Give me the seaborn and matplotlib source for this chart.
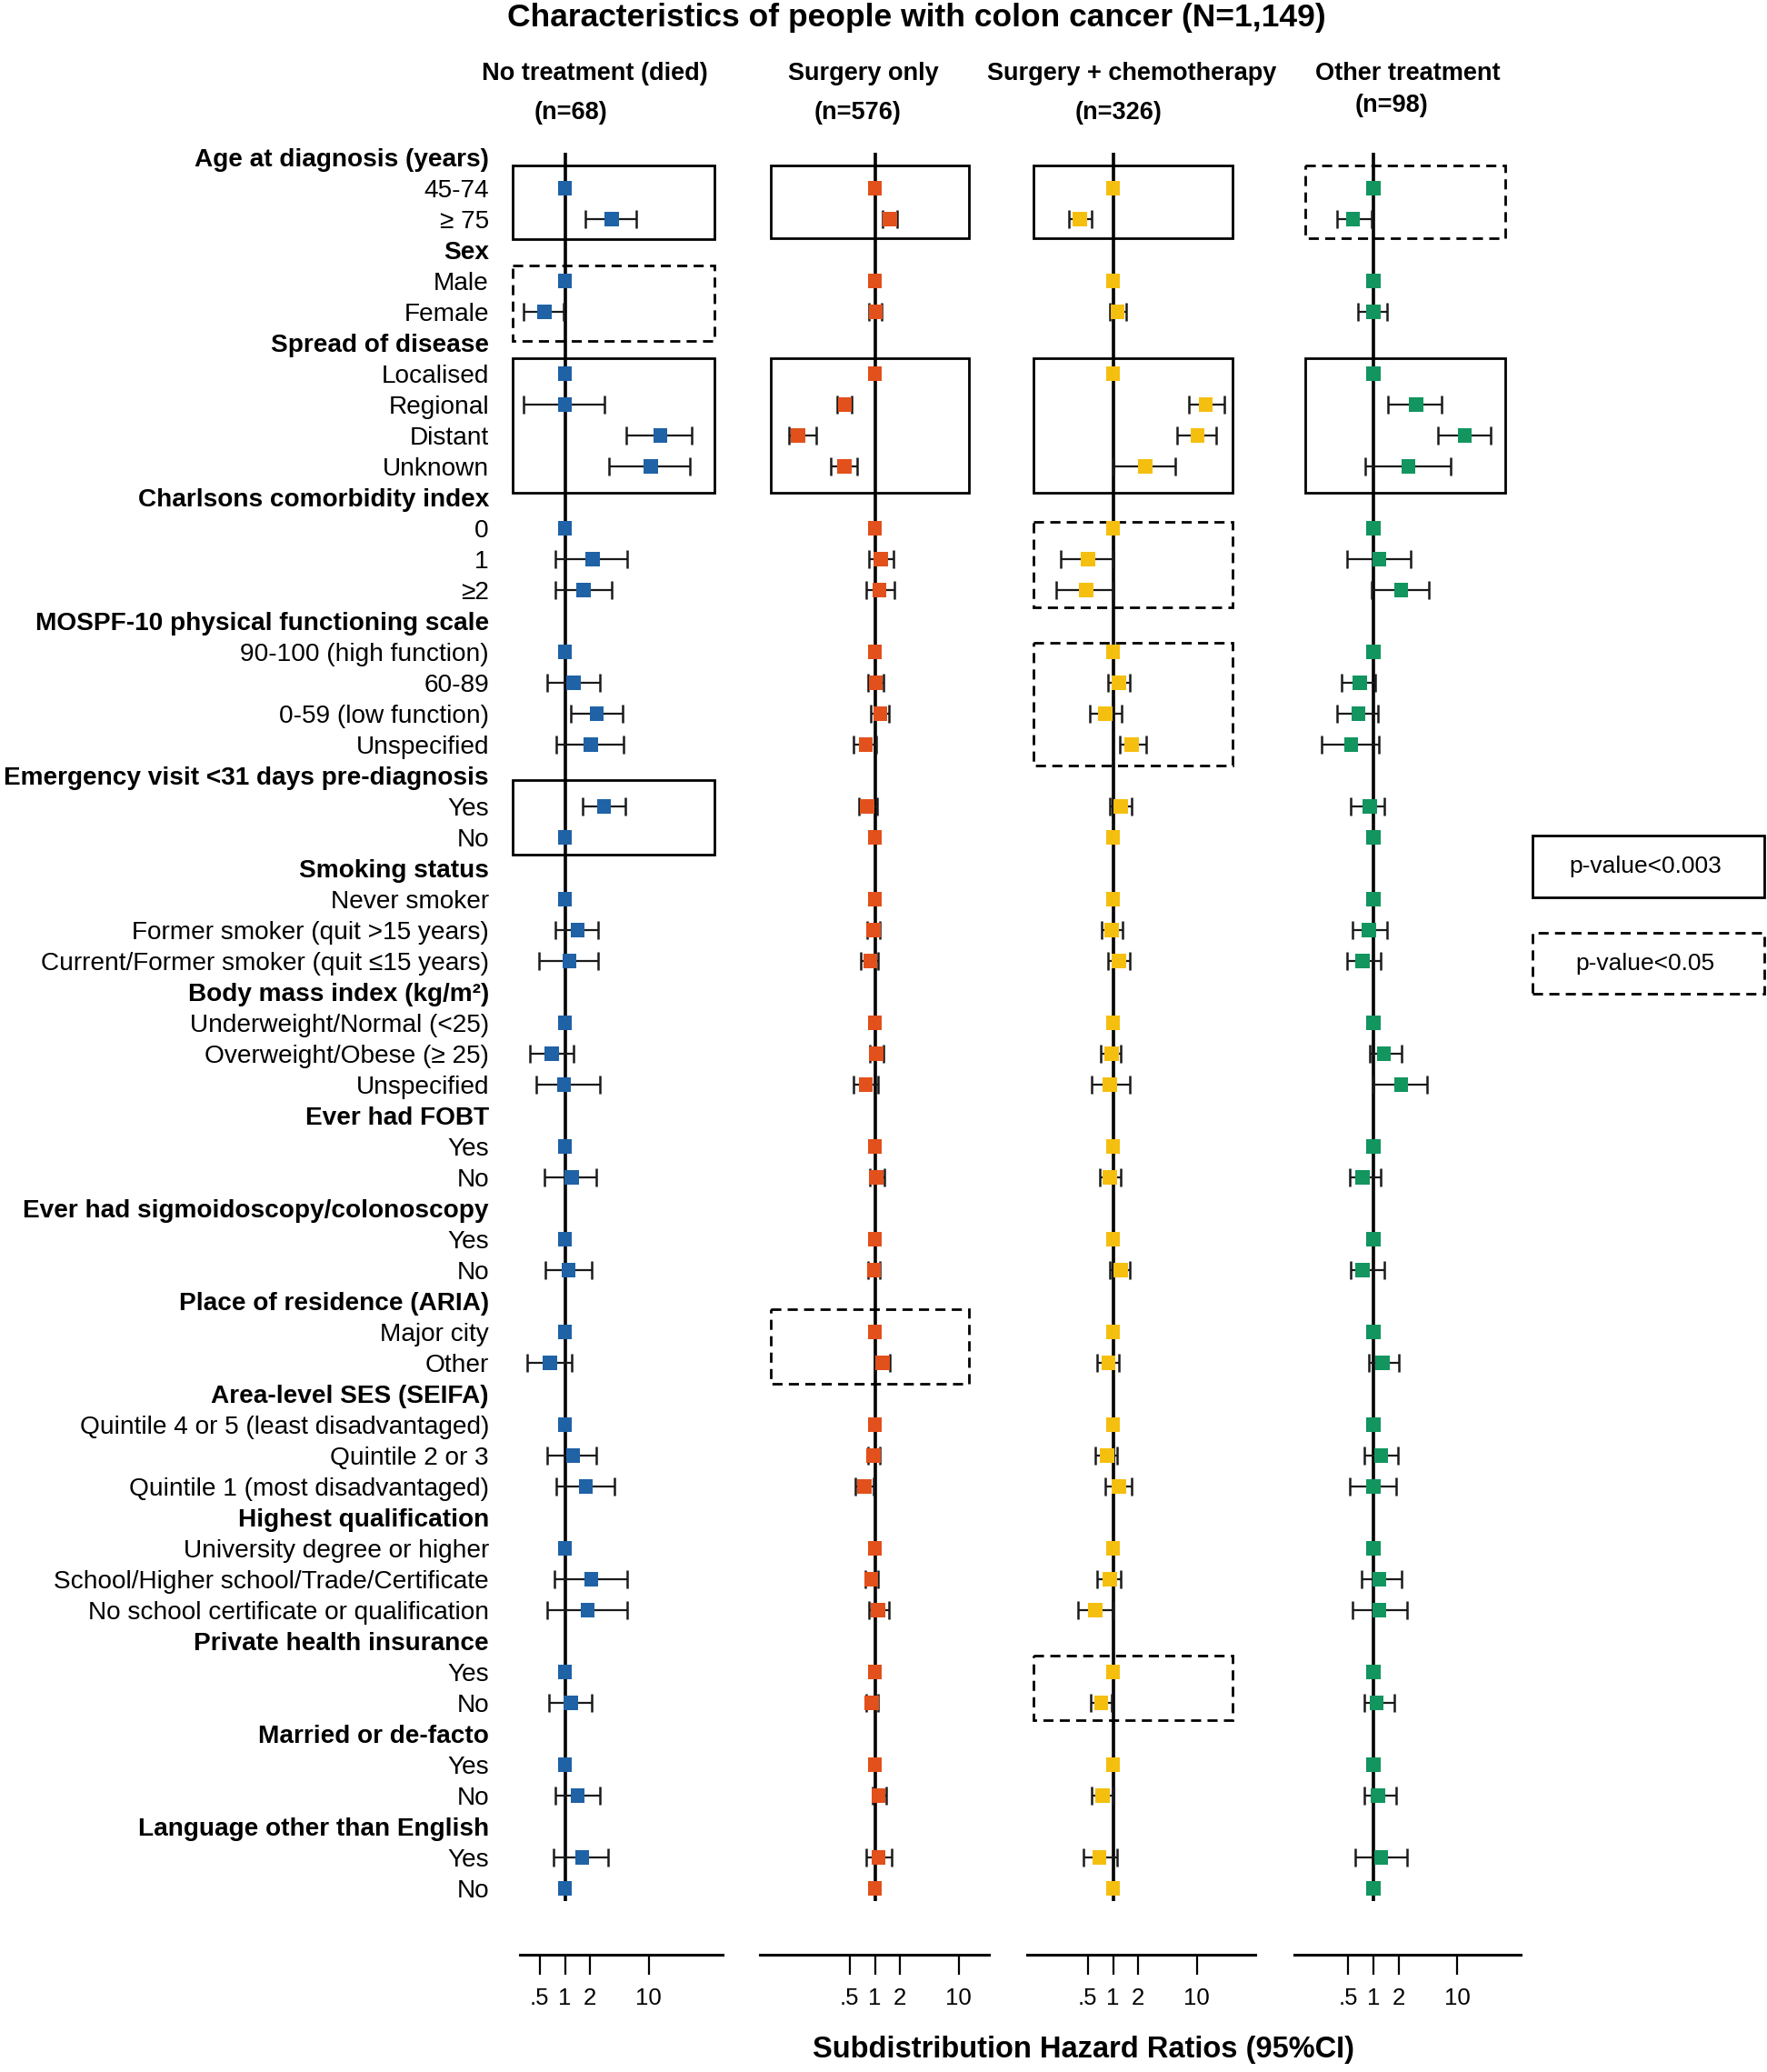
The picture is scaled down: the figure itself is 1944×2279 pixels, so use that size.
import numpy as np
import pandas as pd
import matplotlib
matplotlib.use("Agg")
import matplotlib.pyplot as plt
import matplotlib.transforms as mtransforms
from matplotlib.patches import Rectangle
from matplotlib.ticker import NullLocator
import seaborn as sns

# ------------------------------------------------------------------ data
row_labels = [
    "Age at diagnosis (years)", "45-74", "\u2265 75",
    "Sex", "Male", "Female",
    "Spread of disease", "Localised", "Regional", "Distant", "Unknown",
    "Charlsons comorbidity index", "0", "1", "\u22652",
    "MOSPF-10 physical functioning scale", "90-100 (high function)", "60-89",
    "0-59 (low function)", "Unspecified",
    "Emergency visit <31 days pre-diagnosis", "Yes", "No",
    "Smoking status", "Never smoker", "Former smoker (quit >15 years)",
    "Current/Former smoker (quit \u226415 years)",
    "Body mass index (kg/m\u00b2)", "Underweight/Normal (<25)", "Overweight/Obese (\u2265 25)", "Unspecified",
    "Ever had FOBT", "Yes", "No",
    "Ever had sigmoidoscopy/colonoscopy", "Yes", "No",
    "Place of residence (ARIA)", "Major city", "Other",
    "Area-level SES (SEIFA)", "Quintile 4 or 5 (least disadvantaged)", "Quintile 2 or 3",
    "Quintile 1 (most disadvantaged)",
    "Highest qualification", "University degree or higher",
    "School/Higher school/Trade/Certificate", "No school certificate or qualification",
    "Private health insurance", "Yes", "No",
    "Married or de-facto", "Yes", "No",
    "Language other than English", "Yes", "No",
]
header_rows = [0, 3, 6, 11, 15, 20, 23, 27, 31, 34, 37, 40, 44, 48, 51, 54]
# rows that carry an estimate with a confidence interval (others are reference = 1)
ci_rows = [2, 5, 8, 9, 10, 13, 14, 17, 18, 19, 21, 25, 26, 29, 30, 33, 36, 39,
           42, 43, 46, 47, 50, 53, 55]

panel_names = ["No treatment (died)", "Surgery only", "Surgery + chemotherapy", "Other treatment"]
panel_n = ["(n=68)", "(n=576)", "(n=326)", "(n=98)"]
panel_colors = ["#1f62a6", "#e2501c", "#f5bf10", "#12955f"]

no_treat_hr = [3.65, 0.57, 1.00, 13.8, 10.7, 2.15, 1.68, 1.27, 2.40, 2.03, 2.93, 1.42, 1.13,
               0.70, 0.97, 1.20, 1.10, 0.66, 1.25, 1.78, 2.07, 1.87, 1.17, 1.42, 1.61]
no_treat_lo = [1.75, 0.32, 0.32, 5.4, 3.4, 0.76, 0.77, 0.62, 1.17, 0.78, 1.61, 0.76, 0.49,
               0.38, 0.45, 0.57, 0.59, 0.35, 0.62, 0.78, 0.75, 0.61, 0.65, 0.76, 0.73]
no_treat_hi = [7.2, 0.96, 3.0, 33.0, 31.0, 5.6, 3.6, 2.6, 4.9, 5.05, 5.3, 2.5, 2.5,
               1.27, 2.6, 2.4, 2.07, 1.2, 2.4, 3.9, 5.5, 5.5, 2.07, 2.6, 3.3]

surgery_hr = [1.51, 1.02, 0.44, 0.12, 0.43, 1.18, 1.13, 1.02, 1.16, 0.78, 0.81, 0.96, 0.88,
              1.04, 0.78, 1.04, 0.98, 1.23, 0.96, 0.75, 0.90, 1.09, 0.92, 1.10, 1.10]
surgery_lo = [1.25, 0.86, 0.35, 0.093, 0.30, 0.85, 0.79, 0.83, 0.90, 0.56, 0.64, 0.81, 0.68,
              0.88, 0.56, 0.88, 0.83, 1.00, 0.83, 0.58, 0.77, 0.85, 0.78, 0.94, 0.79]
surgery_hi = [1.86, 1.22, 0.53, 0.20, 0.62, 1.67, 1.71, 1.26, 1.49, 1.04, 1.07, 1.16, 1.09,
              1.26, 1.09, 1.30, 1.16, 1.51, 1.16, 0.96, 1.09, 1.47, 1.09, 1.36, 1.57]

chemo_hr = [0.40, 1.13, 12.9, 10.3, 2.42, 0.50, 0.48, 1.18, 0.81, 1.68, 1.23, 0.96, 1.18,
            0.96, 0.92, 0.92, 1.23, 0.88, 0.85, 1.18, 0.92, 0.61, 0.72, 0.75, 0.69]
chemo_lo = [0.30, 0.92, 8.1, 5.9, 1.00, 0.24, 0.21, 0.88, 0.53, 1.21, 0.92, 0.74, 0.87,
            0.72, 0.56, 0.69, 0.92, 0.65, 0.61, 0.81, 0.65, 0.38, 0.54, 0.56, 0.44]
chemo_hi = [0.56, 1.45, 21.7, 17.2, 5.5, 1.00, 1.02, 1.57, 1.28, 2.52, 1.68, 1.31, 1.60,
            1.25, 1.57, 1.23, 1.57, 1.18, 1.13, 1.67, 1.25, 0.98, 0.96, 1.00, 1.13]

other_hr = [0.57, 1.00, 3.23, 12.4, 2.63, 1.18, 2.15, 0.69, 0.66, 0.54, 0.90, 0.88, 0.74,
            1.33, 2.15, 0.74, 0.74, 1.28, 1.23, 1.00, 1.18, 1.18, 1.09, 1.13, 1.23]
other_lo = [0.37, 0.66, 1.51, 5.9, 0.80, 0.49, 0.94, 0.42, 0.37, 0.24, 0.54, 0.56, 0.48,
            0.90, 1.00, 0.52, 0.54, 0.88, 0.78, 0.52, 0.72, 0.56, 0.78, 0.77, 0.60]
other_hi = [0.94, 1.47, 6.6, 25.0, 8.3, 2.76, 4.6, 1.06, 1.13, 1.15, 1.36, 1.45, 1.21,
            2.19, 4.4, 1.23, 1.36, 2.0, 1.98, 1.86, 2.15, 2.54, 1.78, 1.86, 2.54]

tick_values = [0.5, 1, 2, 10]
tick_labels = [".5", "1", "2", "10"]

panel_estimates = {
    "No treatment (died)": (no_treat_hr, no_treat_lo, no_treat_hi),
    "Surgery only": (surgery_hr, surgery_lo, surgery_hi),
    "Surgery + chemotherapy": (chemo_hr, chemo_lo, chemo_hi),
    "Other treatment": (other_hr, other_lo, other_hi),
}

records = []
for name in panel_names:
    hr, lo, hi = panel_estimates[name]
    for r in range(len(row_labels)):
        if r in header_rows:
            continue
        if r in ci_rows:
            k = ci_rows.index(r)
            records.append((name, r, hr[k], lo[k], hi[k]))
        else:
            records.append((name, r, 1.0, np.nan, np.nan))
df = pd.DataFrame(records, columns=["panel", "row", "hr", "lo", "hi"])

# ------------------------------------------------------------------ layout
W, H = 1944, 2279
axes_px = [(572, 795), (836, 1088), (1130, 1381), (1424, 1673)]
one_px = [621.5, 962.5, 1224.5, 1511]
px_per_doubling = 27.7
row0_px, row_step = 173, 34.0
y_bottom_px, y_top_px = 2150, 150
ylim_bottom = (y_bottom_px - row0_px) / row_step
ylim_top = (y_top_px - row0_px) / row_step

box_x_px = [(564, 786), (848, 1066), (1137, 1356), (1436, 1656)]
# (panel index, top (row units), bottom (row units), style)
sig_boxes = [
    (0, 0.26, 2.65, "solid"), (0, 3.5, 5.95, "dashed"), (0, 6.5, 10.85, "solid"),
    (0, 20.16, 22.55, "solid"),
    (1, 0.26, 2.62, "solid"), (1, 6.5, 10.85, "solid"), (1, 37.25, 39.68, "dashed"),
    (2, 0.26, 2.62, "solid"), (2, 6.5, 10.85, "solid"), (2, 11.79, 14.57, "dashed"),
    (2, 15.72, 19.69, "dashed"), (2, 48.48, 50.57, "dashed"),
    (3, 0.26, 2.62, "dashed"), (3, 6.5, 10.85, "solid"),
]
dash = (0, (4, 2.5))

sns.set_theme(style="white")
plt.rcParams["font.family"] = ["Liberation Sans", "DejaVu Sans"]
plt.rcParams["text.color"] = "black"

fig = plt.figure(figsize=(W / 100, H / 100), dpi=100)
fig.patch.set_facecolor("white")


def fx(x):
    return x / W


def fy(y):
    return 1 - y / H


for i, name in enumerate(panel_names):
    x0, x1 = axes_px[i]
    ax = fig.add_axes([fx(x0), fy(y_bottom_px), (x1 - x0) / W, (y_bottom_px - y_top_px) / H])
    ax.set_facecolor("none")
    sub = df[df["panel"] == name]
    ci = sub.dropna(subset=["lo"])

    ax.vlines(1, -0.15, 56.4, colors="black", lw=2.6, zorder=1)
    ax.errorbar(ci["hr"], ci["row"], xerr=[ci["hr"] - ci["lo"], ci["hi"] - ci["hr"]],
                fmt="none", ecolor="#1a1a1a", elinewidth=1.6, capsize=7, capthick=1.8, zorder=2)
    sns.scatterplot(data=sub, x="hr", y="row", marker="s", s=125, color=panel_colors[i],
                    edgecolor="none", linewidth=0, ax=ax, zorder=3, legend=False)

    ax.set_xscale("log")
    ax.set_xlim(2 ** ((x0 - one_px[i]) / px_per_doubling), 2 ** ((x1 - one_px[i]) / px_per_doubling))
    ax.set_ylim(ylim_bottom, ylim_top)
    ax.set_xticks(tick_values)
    ax.set_xticklabels(tick_labels)
    ax.xaxis.set_minor_locator(NullLocator())
    ax.tick_params(axis="x", bottom=True, length=16, width=1.6, color="black",
                   labelsize=18.5, pad=10, direction="out", labelcolor="black")
    ax.set_xlabel("")
    ax.set_ylabel("")
    for s in ["left", "top", "right"]:
        ax.spines[s].set_visible(False)
    ax.spines["bottom"].set_color("black")
    ax.spines["bottom"].set_linewidth(2.2)
    ax.grid(False)

    if i == 0:
        ax.set_yticks(range(len(row_labels)))
        ax.set_yticklabels(row_labels, fontsize=20.2, color="black")
        ax.tick_params(axis="y", left=False, length=0, pad=24.5)
        for r, t in enumerate(ax.get_yticklabels()):
            if r in header_rows:
                t.set_fontweight("bold")
    else:
        ax.set_yticks([])

    trans = mtransforms.blended_transform_factory(ax.transAxes, ax.transData)
    bx0, bx1 = box_x_px[i]
    for p, top, bot, style in sig_boxes:
        if p != i:
            continue
        ax.add_patch(Rectangle(((bx0 - x0) / (x1 - x0), top), (bx1 - bx0) / (x1 - x0), bot - top,
                               transform=trans, fill=False, ec="black", lw=2.0,
                               ls="-" if style == "solid" else dash, clip_on=False, zorder=1.5))

# ------------------------------------------------------------------ texts
fig.text(fx(1008), fy(19), "Characteristics of people with colon cancer (N=1,149)",
         ha="center", va="center", fontsize=25.5, fontweight="bold")
head_pos = [(654, 81), (950, 81), (1245, 81), (1549, 81)]
n_pos = [(628, 124), (944, 124), (1231, 124), (1531, 116)]
for i in range(4):
    fig.text(fx(head_pos[i][0]), fy(head_pos[i][1]), panel_names[i], ha="center", va="center",
             fontsize=19.5, fontweight="bold")
    fig.text(fx(n_pos[i][0]), fy(n_pos[i][1]), panel_n[i], ha="center", va="center",
             fontsize=19.5, fontweight="bold")

fig.text(fx(1192), fy(2254), "Subdistribution Hazard Ratios (95%CI)", ha="center", va="center",
         fontsize=23.5, fontweight="bold")

# legend boxes
legend_items = [("p-value<0.003", "solid", 919, 987), ("p-value<0.05", "dashed", 1026, 1093)]
for label, style, y0, y1 in legend_items:
    fig.add_artist(Rectangle((fx(1686), fy(y1)), (1941 - 1686) / W, (y1 - y0) / H,
                             transform=fig.transFigure, fill=False, ec="black", lw=2.0,
                             ls="-" if style == "solid" else dash))
    fig.text(fx(1810), fy((y0 + y1) / 2), label, ha="center", va="center", fontsize=19)

fig.savefig("out.png", dpi=100, facecolor="white")
